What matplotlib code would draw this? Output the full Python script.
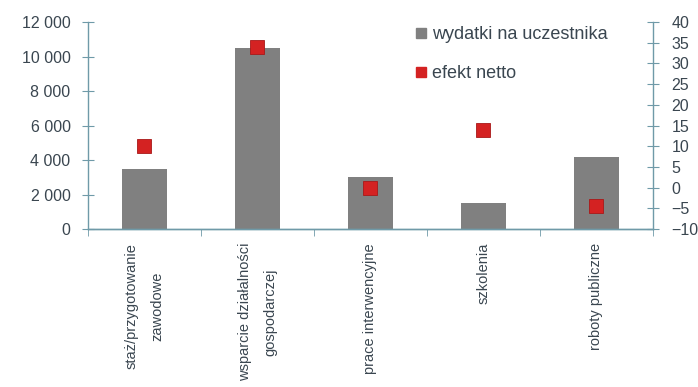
import numpy as np
import matplotlib.pyplot as plt
from matplotlib.lines import Line2D

plt.rcParams['font.family'] = ['Liberation Sans', 'DejaVu Sans']

categories = ['staż/przygotowanie\nzawodowe', 'wsparcie działalności\ngospodarczej',
              'prace interwencyjne', 'szkolenia', 'roboty publiczne']
wydatki = [3500, 10500, 3000, 1500, 4200]
efekt = [10, 34, 0, 14, -4.3]

axis_col = '#6f9aa8'
text_col = '#3a4650'
bar_col = '#808080'
red = '#d42222'

fig = plt.figure(figsize=(6.98, 3.87), dpi=100)
ax = fig.add_axes([0.126, 0.408, 0.8095, 0.535])
x = np.arange(len(categories))

ax.bar(x, wydatki, width=0.4, color=bar_col, zorder=2)
ax.set_xlim(-0.5, len(categories) - 0.5)
ax.set_ylim(0, 12000)
ax.set_yticks(np.arange(0, 12001, 2000))
ax.set_yticklabels(['{:,}'.format(v).replace(',', ' ') for v in range(0, 12001, 2000)])

ax2 = ax.twinx()
ax2.plot(x, efekt, ls='', marker='s', markersize=9.5, color=red,
         markeredgecolor='#a81818', markeredgewidth=0.6, zorder=3)
ax2.set_ylim(-10, 40)
ax2.set_yticks(np.arange(-10, 41, 5))

for a in (ax, ax2):
    for s in a.spines.values():
        s.set_color(axis_col)
        s.set_linewidth(1.0)
    a.spines['top'].set_visible(False)
    a.tick_params(axis='y', direction='inout', length=9, color=axis_col,
                  labelsize=11.5, labelcolor=text_col, pad=8)
ax.spines['right'].set_visible(False)
ax2.spines['left'].set_visible(False)
ax2.tick_params(axis='y', pad=9)

ax.set_xticks(x)
ax.set_xticklabels(categories, rotation=90, ha='center', va='top',
                   multialignment='center', linespacing=2.0)
ax.set_xticks(np.arange(-0.5, len(categories)), minor=True)
ax.tick_params(axis='x', which='major', length=0, labelsize=10.5,
               labelcolor=text_col, pad=10)
ax.tick_params(axis='x', which='minor', length=5, color=axis_col, direction='out')

handles = [Line2D([], [], ls='', marker='s', markersize=7, color=bar_col),
           Line2D([], [], ls='', marker='s', markersize=7, color=red)]
ax2.legend(handles, ['wydatki na uczestnika', 'efekt netto'],
           loc='upper left', bbox_to_anchor=(0.572, 0.975),
           bbox_transform=fig.transFigure, frameon=False, fontsize=13,
           handlelength=0.6, handletextpad=0.3, labelspacing=1.25,
           labelcolor=text_col)

fig.savefig('out.png', dpi=100)
